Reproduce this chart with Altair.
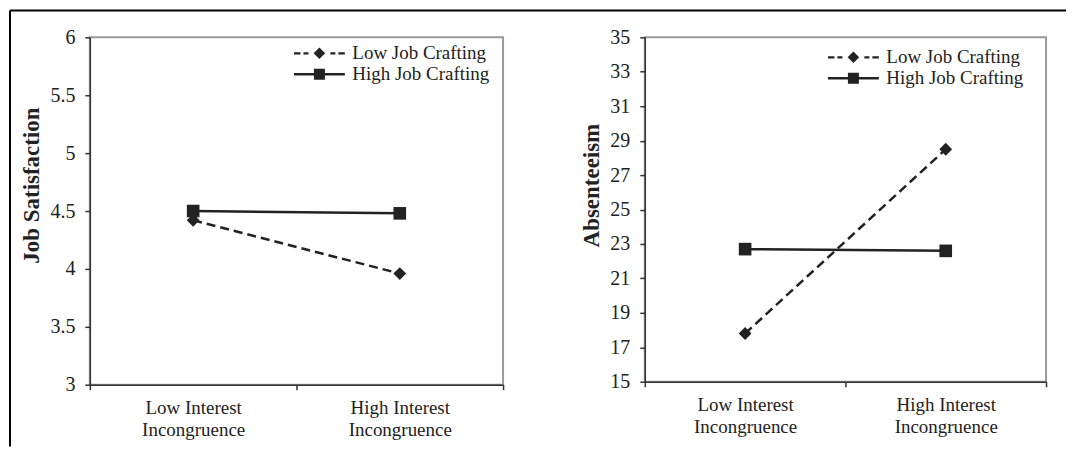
import altair as alt
import pandas as pd

# ---- data ----
categories = ["Low Interest Incongruence", "High Interest Incongruence"]
series = ["Low Job Crafting", "High Job Crafting"]

sat_low = [4.42, 3.96]
sat_high = [4.50, 4.48]
abs_low = [17.8, 28.5]
abs_high = [22.7, 22.6]

sat_ticks = [3, 3.5, 4, 4.5, 5, 5.5, 6]
abs_ticks = [15, 17, 19, 21, 23, 25, 27, 29, 31, 33, 35]

FONT = "Liberation Serif"
INK = "#222222"


def seg(a, b, h=0.12):
    return "M%g,%gL%g,%gL%g,%gL%g,%gZ" % (a, -h, b, -h, b, h, a, h)


# legend glyphs (filled shapes only): line segments with a marker
LOW_PATH = (seg(-2.55, -1.9) + seg(-1.6, -1.1)
            + "M-0.58,0L0,-0.58L0.58,0L0,0.58Z"
            + seg(1.1, 1.6) + seg(1.9, 2.55))
HIGH_PATH = seg(-2.55, 2.55) + "M-0.55,-0.55L0.55,-0.55L0.55,0.55L-0.55,0.55Z"


def make_df(low, high):
    rows = []
    for s, vals in zip(series, [low, high]):
        for c, v in zip(categories, vals):
            rows.append({"category": c, "series": s, "value": v})
    return pd.DataFrame(rows)


def panel(df, title, ticks, lx, ly):
    base = alt.Chart(df)
    x = alt.X(
        "category:N",
        sort=categories,
        scale=alt.Scale(paddingInner=0, paddingOuter=0),
        axis=alt.Axis(
            title=None,
            tickBand="extent",
            labelAngle=0,
            labelExpr="datum.label ? [replace(datum.label, ' Incongruence', ''), 'Incongruence'] : ''",
            labelLineHeight=22,
            labelPadding=9,
            labelFontSize=19,
            tickSize=5,
        ),
    )
    y = alt.Y(
        "value:Q",
        scale=alt.Scale(domain=[ticks[0], ticks[-1]], nice=False, zero=False),
        axis=alt.Axis(
            values=ticks,
            format="~g",
            title=title,
            titleFontWeight="bold",
            titleFontSize=23,
            titlePadding=6,
            titleY=148,
            labelPadding=10,
            labelFontSize=20,
            tickSize=5,
            grid=False,
        ),
    )
    low = base.transform_filter(alt.datum.series == series[0])
    high = base.transform_filter(alt.datum.series == series[1])

    low_line = low.mark_line(strokeWidth=2.5, color=INK, strokeDash=[9, 5]).encode(x=x, y=y)
    high_line = high.mark_line(strokeWidth=2.5, color=INK).encode(x=x, y=y)
    diamonds = low.mark_point(filled=True, opacity=1, color=INK, size=165,
                              shape="diamond").encode(x=x, y=y)
    squares = high.mark_point(filled=True, opacity=1, color=INK, size=160,
                              shape="square").encode(x=x, y=y)

    # invisible layer whose only job is to carry the legend
    legend_layer = base.mark_point(
        filled=False, color=INK, fill=INK, stroke=INK, strokeWidth=2, opacity=0, size=1
    ).encode(
        x=x,
        y=y,
        shape=alt.Shape(
            "series:N",
            sort=series,
            scale=alt.Scale(domain=series, range=[LOW_PATH, HIGH_PATH]),
            legend=alt.Legend(
                title=None,
                orient="none",
                legendX=lx,
                legendY=ly,
                padding=0,
                symbolSize=400,
                symbolFillColor=INK,
                symbolStrokeColor=INK,
                symbolStrokeWidth=2,
                symbolOpacity=1,
                labelFont=FONT,
                labelFontSize=19,
                labelColor=INK,
                labelOffset=22,
                rowPadding=0,
            ),
        ),
    )
    return [low_line, high_line, diamonds, squares, legend_layer]


left_layers = panel(make_df(sat_low, sat_high), "Job Satisfaction", sat_ticks, 219, 5)
right_layers = panel(make_df(abs_low, abs_high), "Absenteeism", abs_ticks, 198, 9)

one = pd.DataFrame({"k": [0]})
frame_top = alt.Chart(one).mark_rule(color="black", strokeWidth=2).encode(
    x=alt.value(-80), x2=alt.value(978), y=alt.value(-27)
)
frame_left = alt.Chart(one).mark_rule(color="black", strokeWidth=2).encode(
    x=alt.value(-80), y=alt.value(-27), y2=alt.value(410)
)

left = alt.layer(frame_top, frame_left, *left_layers).properties(width=414, height=348)
right = alt.layer(*right_layers).properties(width=402, height=345)

chart = (
    alt.hconcat(left, right, spacing=142, bounds="flush")
    .resolve_scale(shape="independent")
    .resolve_legend(shape="independent")
    .properties(padding=0)
    .configure_view(stroke="#9a9a9a", strokeWidth=2)
    .configure_axis(
        labelFont=FONT,
        labelColor=INK,
        titleFont=FONT,
        titleColor=INK,
        domainColor="#333333",
        domainWidth=1.5,
        tickColor="#333333",
        tickWidth=1.5,
    )
)

chart.save("out.html", embed_options={"renderer": "svg", "actions": False})
